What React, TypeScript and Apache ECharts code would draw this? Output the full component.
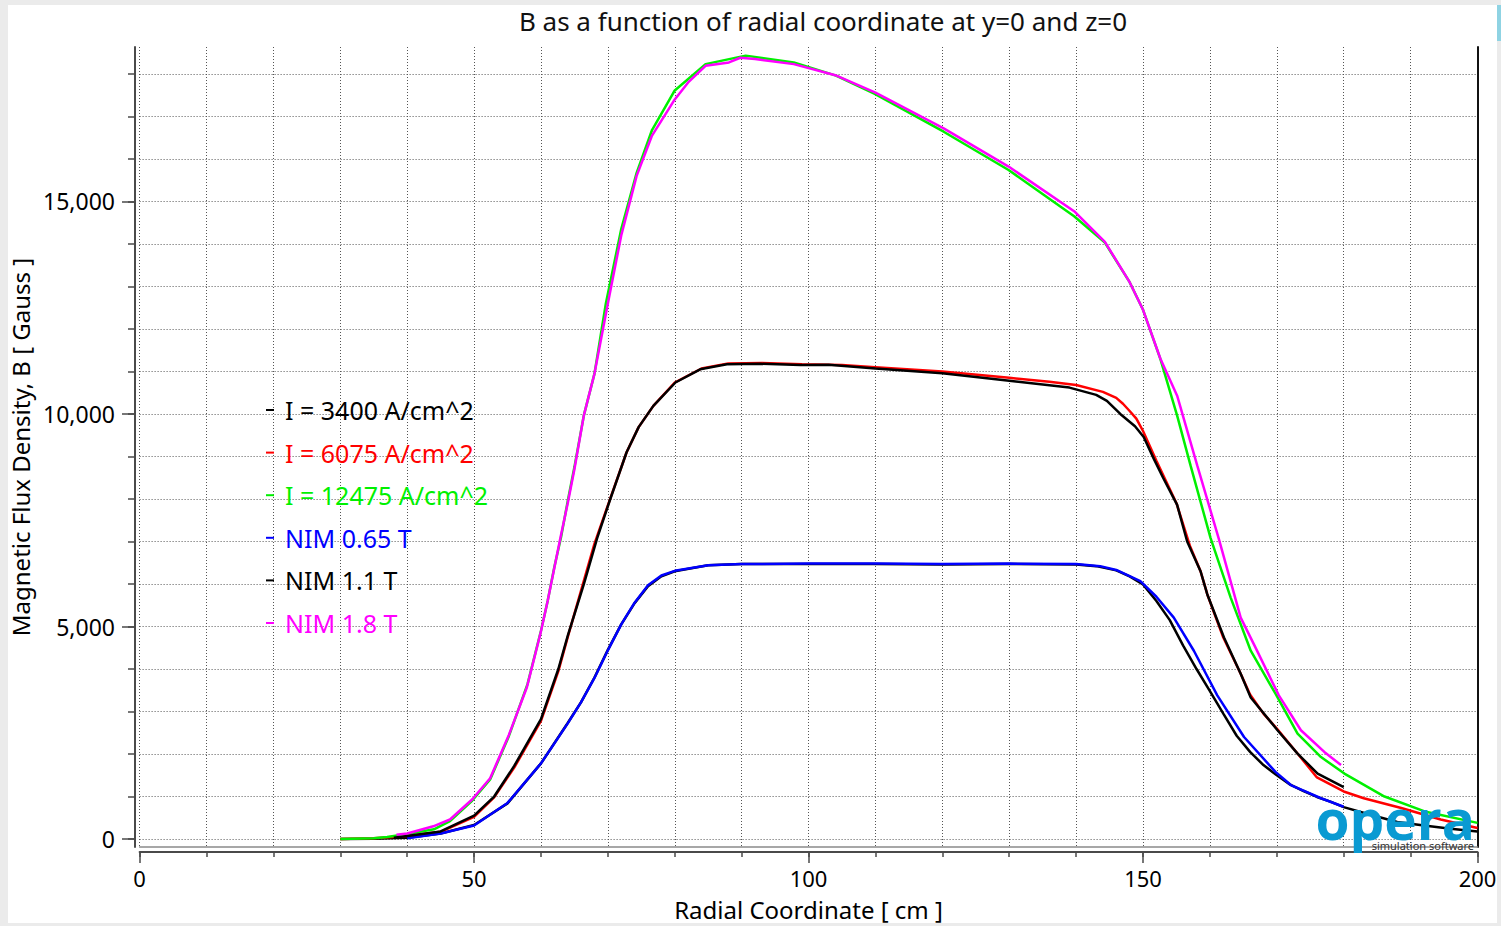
import React, { useEffect, useRef } from 'react';
import * as echarts from 'echarts';

const FONT = "'Noto Sans', 'Open Sans', sans-serif";

const titleText = 'B as a function of radial coordinate at y=0 and z=0';
const xName = 'Radial Coordinate [ cm ]';
const yName = 'Magnetic Flux Density, B [ Gauss ]';

const seriesNames = [
  'I = 3400 A/cm^2',
  'I = 6075 A/cm^2',
  'I = 12475 A/cm^2',
  'NIM 0.65 T',
  'NIM 1.1 T',
  'NIM 1.8 T',
];
const seriesColors = ['#000000', '#ff0000', '#00f000', '#0000ff', '#000000', '#ff00ff'];

const xRange = [0, 200];
const yRange = [-187, 18633];
const xMinorTicks = [0, 10, 20, 30, 40, 50, 60, 70, 80, 90, 100, 110, 120, 130, 140, 150, 160, 170, 180, 190, 200];
const xMajorTicks = [0, 50, 100, 150, 200];
const yMinorTicks = [0, 1000, 2000, 3000, 4000, 5000, 6000, 7000, 8000, 9000, 10000, 11000, 12000, 13000, 14000, 15000, 16000, 17000, 18000];
const yMajorTicks = [0, 5000, 10000, 15000];

// [radial coordinate cm, B gauss]
const i3400 = [
  [30, 0], [35, 10], [40, 30], [45, 130], [50, 330], [55, 840], [60, 1780], [64, 2730], [66, 3220], [68, 3800],
  [70, 4450], [72, 5050], [74, 5550], [76, 5950], [78, 6180], [80, 6300], [85, 6440], [90, 6470],
  [100, 6470], [110, 6470], [120, 6460], [130, 6470], [140, 6460], [143, 6420], [146, 6320], [148, 6180],
  [150, 5990], [152, 5600], [154, 5150], [156, 4550], [158, 4000], [160, 3480], [162, 2950], [164, 2430],
  [166, 2050], [168, 1740], [170, 1500], [172, 1280], [174, 1130], [176, 990], [178, 880], [180, 750],
  [184, 570], [188, 400], [192, 320], [196, 240], [200, 180],
];
const i6075 = [
  [30, 0], [35, 20], [40, 70], [45, 170], [50, 520], [53, 980], [56, 1680], [60, 2780], [62.6, 3950],
  [64, 4750], [66, 5850], [68, 6950], [70, 7850], [72.8, 9100], [74.6, 9690], [76.8, 10190], [80, 10740],
  [84, 11070], [88, 11190], [93, 11200], [99, 11170], [105, 11150], [110, 11100], [120, 11000], [130, 10850],
  [136, 10760], [140, 10680], [144, 10520], [146, 10380], [147, 10240], [148, 10070], [149, 9890], [150, 9600],
  [152, 8900], [155, 7900], [157, 6900], [158.6, 6300], [159.6, 5760], [162, 4740], [164.6, 3890], [166, 3400],
  [168, 2950], [170, 2600], [173, 2030], [176, 1450], [180, 1120], [183, 960], [188.6, 730], [194.5, 460], [200, 260],
];
const i12475 = [
  [30, 0], [35, 20], [37, 50], [40, 120], [44, 230], [46.4, 420], [49.7, 900], [52.4, 1400], [55.2, 2420],
  [58, 3650], [60, 4900], [61, 5600], [62, 6400], [63, 7100], [64, 7950], [65, 8750], [66.4, 9960], [68, 10950],
  [69.7, 12600], [72, 14350], [74.3, 15670], [76.6, 16680], [80, 17610], [84.6, 18230], [90.6, 18430],
  [97.8, 18270], [104.1, 17960], [109.9, 17530], [120.2, 16640], [129.9, 15740], [139.7, 14650], [144.3, 14030],
  [148, 13100], [150, 12450], [152.6, 11290], [155.1, 9960], [157.1, 8790], [160.1, 7080], [163.1, 5680],
  [166.1, 4430], [169.8, 3420], [173.1, 2480], [176.6, 1930], [180.1, 1540], [186.1, 1000], [192.1, 650], [200, 380],
];
const nim065 = [
  [40, 20], [45, 130], [50, 320], [55, 850], [60, 1780], [64, 2720], [66, 3220], [68, 3790], [70, 4440],
  [72, 5050], [74, 5560], [76, 5970], [78, 6200], [80, 6310], [85, 6440], [90, 6470], [100, 6480], [110, 6480],
  [120, 6470], [130, 6480], [140, 6470], [143.6, 6420], [146, 6330], [149.6, 6070], [152, 5700], [154.6, 5210],
  [157.6, 4430], [161.1, 3380], [165.1, 2400], [169.8, 1580], [172.1, 1270], [176.6, 960], [180, 760],
];
const nim11 = [
  [38, 30], [40, 70], [45, 180], [50, 550], [53, 1000], [56, 1720], [60, 2820], [62.6, 4000], [64, 4780],
  [66.4, 5990], [68.4, 7080], [70.3, 7970], [72.8, 9100], [74.6, 9690], [76.8, 10190], [80.1, 10740],
  [83.8, 11050], [87.8, 11170], [92.8, 11180], [98.8, 11150], [103, 11160], [110, 11070], [120, 10960],
  [130, 10780], [139, 10620], [143, 10450], [144.6, 10310], [146.6, 10000], [148.8, 9710], [150.1, 9460],
  [151.6, 8950], [153, 8500], [155.1, 7860], [156.6, 7000], [158.6, 6300], [159.6, 5760], [162.1, 4740],
  [164.6, 3890], [166.1, 3330], [170.1, 2560], [173.1, 2010], [176.1, 1540], [180, 1220],
];
const nim18 = [
  [38.4, 100], [40, 130], [43.9, 300], [46.4, 460], [49.7, 930], [52.4, 1430], [55.2, 2450], [57.9, 3570],
  [59.9, 4820], [61, 5600], [62.9, 7080], [64, 7900], [65, 8700], [66.4, 9960], [68, 10950], [70, 12600],
  [72, 14200], [74.3, 15600], [76.6, 16550], [80, 17400], [82, 17800], [84.6, 18190], [88.1, 18270],
  [89.8, 18380], [92, 18350], [97.8, 18230], [104, 17970], [110, 17560], [120.2, 16720], [129.9, 15820],
  [139.7, 14770], [144.3, 14050], [148, 13100], [150, 12450], [152.6, 11300], [155.1, 10430], [158.1, 8790],
  [161.3, 7080], [164.6, 5210], [166.8, 4510], [170.3, 3380], [173.6, 2560], [177.1, 2050], [179.6, 1740],
];
const seriesData = [i3400, i6075, i12475, nim065, nim11, nim18];

const fmt = (v: number) => Math.round(v).toLocaleString('en-US');

export default function App() {
  const ref = useRef<HTMLDivElement>(null);
  useEffect(() => {
    document.body.style.margin = '0';
    const chart = echarts.init(ref.current!, null, { renderer: 'svg' });
    const axisDark = '#4a4a4a';
    const gridLine = { show: true, lineStyle: { color: '#555', type: [1, 2] as any, width: 1 } };
    chart.setOption({
      animation: false,
      backgroundColor: 'transparent',
      textStyle: { fontFamily: FONT },
      title: {
        text: titleText,
        left: 818,
        top: 3,
        textAlign: 'center',
        textStyle: { fontSize: 26, fontWeight: 'normal', color: '#111', fontFamily: FONT },
      },
      legend: {
        orient: 'vertical',
        left: 266,
        top: 396,
        padding: 0,
        icon: 'rect',
        itemWidth: 8,
        itemHeight: 2,
        itemGap: 14.6,
        selectedMode: false,
        textStyle: { fontSize: 25, lineHeight: 28, fontFamily: FONT, padding: [0, 0, 0, 6] },
        data: seriesNames.map((n, i) => ({ name: n, textStyle: { color: seriesColors[i] } })),
      },
      grid: { left: 139.6, right: 23.5, top: 47, bottom: 75, containLabel: false },
      xAxis: [
        {
          type: 'value', min: xRange[0], max: xRange[1], position: 'bottom', offset: 5,
          axisLine: { show: true, onZero: false, lineStyle: { color: axisDark, width: 2 } },
          axisTick: { show: true, customValues: xMinorTicks, length: 5, lineStyle: { color: axisDark, width: 1.5 } },
          axisLabel: { show: false },
          splitLine: gridLine,
        },
        {
          type: 'value', min: xRange[0], max: xRange[1], position: 'bottom', offset: 5,
          axisLine: { show: false, onZero: false },
          axisTick: { show: true, customValues: xMajorTicks, length: 11, lineStyle: { color: axisDark, width: 1.5 } },
          axisLabel: { show: true, customValues: xMajorTicks, fontSize: 22, color: '#000', margin: 15, fontFamily: FONT },
          splitLine: { show: false },
          name: xName, nameLocation: 'middle', nameGap: 45,
          nameTextStyle: { fontSize: 24, color: '#000', fontFamily: FONT },
        },
        {
          type: 'value', min: xRange[0], max: xRange[1], position: 'bottom', offset: 0,
          axisLine: { show: true, onZero: false, lineStyle: { color: '#8a8a8a', width: 1.5 } },
          axisTick: { show: false }, axisLabel: { show: false }, splitLine: { show: false },
        },
      ],
      yAxis: [
        {
          type: 'value', min: yRange[0], max: yRange[1], position: 'left', offset: 4.6,
          axisLine: { show: true, onZero: false, lineStyle: { color: axisDark, width: 2 } },
          axisTick: { show: true, customValues: yMinorTicks, length: 7, lineStyle: { color: axisDark, width: 1.5 } },
          axisLabel: { show: false },
          splitLine: gridLine,
        },
        {
          type: 'value', min: yRange[0], max: yRange[1], position: 'left', offset: 4.6,
          axisLine: { show: false, onZero: false },
          axisTick: { show: true, customValues: yMajorTicks, length: 13, lineStyle: { color: axisDark, width: 1.5 } },
          axisLabel: { show: true, customValues: yMajorTicks, fontSize: 23, color: '#000', margin: 20, formatter: fmt, fontFamily: FONT },
          splitLine: { show: false },
          name: yName, nameLocation: 'middle', nameGap: 97,
          nameTextStyle: { fontSize: 24, color: '#000', fontFamily: FONT },
        },
        {
          type: 'value', min: yRange[0], max: yRange[1], position: 'right', offset: 0,
          axisLine: { show: true, onZero: false, lineStyle: { color: '#111', width: 2 } },
          axisTick: { show: false }, axisLabel: { show: false }, splitLine: { show: false },
        },
      ],
      series: seriesData.map((d, i) => ({
        type: 'line',
        name: seriesNames[i],
        data: d,
        xAxisIndex: 0,
        yAxisIndex: 0,
        symbol: 'none',
        showSymbol: false,
        lineStyle: { color: seriesColors[i], width: 2.5 },
        itemStyle: { color: seriesColors[i] },
        z: 3 + i,
      })),
      graphic: [
        {
          type: 'text', x: 1475, y: 818, z: 100,
          style: { text: 'opera', fill: '#0a9ad2', font: "bold 55px 'Open Sans', sans-serif", align: 'right', verticalAlign: 'middle' },
        },
        {
          type: 'text', x: 1474, y: 845, z: 101,
          style: { text: 'simulation software', fill: '#333', font: "11px 'Noto Sans', sans-serif", align: 'right', verticalAlign: 'middle' },
        },
      ],
    });
    return () => chart.dispose();
  }, []);
  return (
    <div style={{ position: 'relative', width: 1501, height: 926, background: '#ebebeb', overflow: 'hidden' }}>
      <div style={{ position: 'absolute', left: 8, top: 5, width: 1489, height: 918, background: '#ffffff' }} />
      <div style={{ position: 'absolute', left: 1497, top: 5, width: 4, height: 36, background: '#8fd3e3' }} />
      <div ref={ref} style={{ position: 'absolute', left: 0, top: 0, width: 1501, height: 926 }} />
    </div>
  );
}
